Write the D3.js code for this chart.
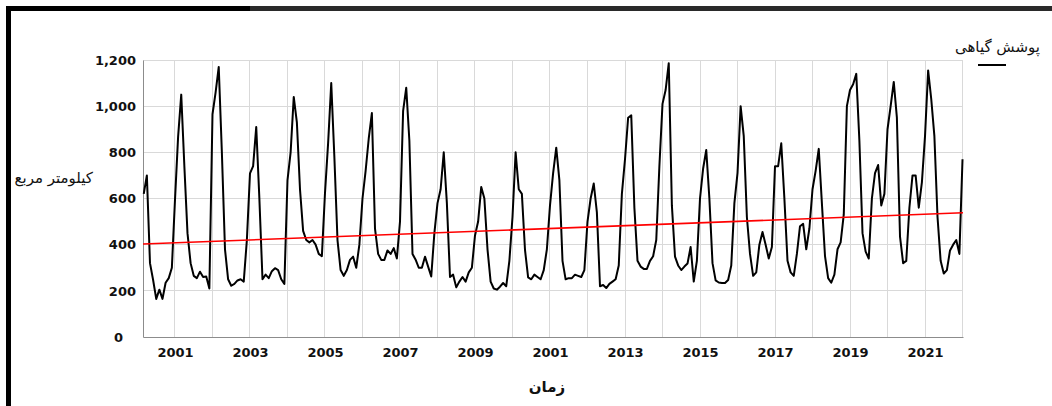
<!DOCTYPE html>
<html>
<head>
<meta charset="utf-8">
<script src="https://cdn.jsdelivr.net/npm/d3@7"></script>
<style>
  html, body { margin: 0; padding: 0; background: #fff; }
  svg { display: block; }
</style>
</head>
<body>
<div id="chart"></div>
<script>
// Monthly vegetation-cover area (km²), starting March 2000
const firstMonth = { year: 2000, month: 3 };
const vegetationArea = [
  // 2000 (Mar–Dec)
  620, 700, 320, 247, 165, 205, 165, 235, 255, 300,
  // 2001
  594, 868, 1050, 740, 450, 320, 265, 255, 283, 260, 262, 210,
  // 2002
  965, 1060, 1170, 800, 380, 250, 222, 230, 245, 250, 240, 420,
  // 2003
  709, 740, 910, 600, 250, 270, 255, 285, 298, 290, 250, 230,
  // 2004
  680, 800, 1040, 930, 640, 460, 420, 410, 420, 400, 360, 350,
  // 2005
  624, 840, 1100, 780, 420, 290, 265, 290, 334, 348, 300, 400,
  // 2006
  600, 720, 860, 970, 470, 360, 334, 334, 375, 360, 385, 340,
  // 2007
  500, 980, 1080, 850, 360, 335, 300, 300, 348, 305, 262, 450,
  // 2008
  580, 640, 800, 580, 260, 270, 215, 240, 260, 240, 280, 300,
  // 2009
  440, 500, 650, 600, 380, 240, 210, 205, 218, 234, 220, 330,
  // 2010
  520, 800, 640, 620, 377, 258, 250, 270, 260, 250, 290, 380,
  // 2011
  570, 710, 820, 680, 330, 250, 255, 255, 270, 265, 260, 290,
  // 2012
  500, 600, 665, 540, 220, 225, 212, 230, 240, 250, 310, 620,
  // 2013
  770, 950, 960, 560, 330, 305, 295, 295, 330, 350, 420, 740,
  // 2014
  1010, 1070, 1186, 570, 348, 310, 290, 305, 318, 390, 240, 330,
  // 2015
  600, 730, 810, 600, 320, 245, 236, 234, 234, 247, 310, 580,
  // 2016
  710, 1000, 870, 520, 360, 265, 280, 400, 455, 400, 340, 390,
  // 2017
  740, 740, 839, 600, 330, 280, 265, 360, 480, 490, 380, 470,
  // 2018
  640, 720, 815, 580, 350, 255, 235, 270, 380, 410, 530, 1000,
  // 2019
  1070, 1095, 1140, 850, 450, 370, 340, 600, 710, 745, 570, 620,
  // 2020
  900, 1000, 1105, 950, 435, 320, 330, 560, 700, 700, 560, 670,
  // 2021
  870, 1155, 1030, 870, 520, 330, 275, 290, 375, 400, 420, 360,
  // 2022 (Jan)
  770
];

// Linear trend values at the start and end of the period
const trendValues = [403, 538];

const yTicks = [0, 200, 400, 600, 800, 1000, 1200];
const gridYears = [2001, 2002, 2003, 2004, 2005, 2006, 2007, 2008, 2009, 2010, 2011,
                   2012, 2013, 2014, 2015, 2016, 2017, 2018, 2019, 2020, 2021, 2022];
const xTickYears = [2001, 2003, 2005, 2007, 2009, 2011, 2013, 2015, 2017, 2019, 2021];
const xTickLabels = ["2001", "2003", "2005", "2007", "2009", "2001", "2013", "2015", "2017", "2019", "2021"];

const yTitle = "کیلومتر مربع";
const xTitle = "زمان";
const legendLabel = "پوشش گیاهی";

const W = 1052, H = 406;
const svg = d3.select("#chart").append("svg").attr("width", W).attr("height", H);

// frame
svg.append("rect").attr("x", 6).attr("y", 6).attr("width", W - 6).attr("height", 5).attr("fill", "#2a2a2a");
svg.append("rect").attr("x", 6).attr("y", 6).attr("width", 244).attr("height", 5).attr("fill", "#000");
svg.append("rect").attr("x", 6).attr("y", 6).attr("width", 5).attr("height", H - 6).attr("fill", "#000");

const x = d3.scaleLinear().domain([2000.147, 2022.013]).range([143, 963]);
const y = d3.scaleLinear().domain([0, 1200]).range([337, 60]);

const series = vegetationArea.map((v, i) => ({
  t: firstMonth.year + (firstMonth.month - 1 + i) / 12,
  v
}));

// gridlines
const grid = svg.append("g");
grid.selectAll("line.h").data(yTicks.filter(d => d > 0)).join("line")
  .attr("x1", x.range()[0]).attr("x2", x.range()[1])
  .attr("y1", d => y(d)).attr("y2", d => y(d))
  .attr("stroke", "#d9d9d9").attr("stroke-width", 1).attr("shape-rendering", "crispEdges");
grid.selectAll("line.v").data(gridYears).join("line")
  .attr("x1", d => x(d)).attr("x2", d => x(d))
  .attr("y1", y(1200)).attr("y2", y(0))
  .attr("stroke", "#d9d9d9").attr("stroke-width", 1).attr("shape-rendering", "crispEdges");

// y axis
const yAxis = svg.append("g").attr("transform", `translate(${x.range()[0]},0)`)
  .call(d3.axisLeft(y).tickValues(yTicks).tickFormat(d3.format(",")).tickSize(0).tickPadding(7));
yAxis.select(".domain").attr("stroke", "#8c8c8c");
yAxis.selectAll("text")
  .attr("font-family", "DejaVu Sans, sans-serif").attr("font-weight", "bold")
  .attr("font-size", 13).attr("fill", "#111")
  .attr("dx", d => d === 0 ? -13 : 0);

// x axis
const xAxis = svg.append("g").attr("transform", `translate(0,${y(0)})`)
  .call(d3.axisBottom(x).tickValues(xTickYears)
    .tickFormat((d, i) => xTickLabels[i]).tickSize(0).tickPadding(11));
xAxis.select(".domain").attr("stroke", "#8c8c8c");
xAxis.selectAll("text")
  .attr("font-family", "DejaVu Sans, sans-serif").attr("font-weight", "bold")
  .attr("font-size", 13).attr("fill", "#111");

// data line
const line = d3.line().x(d => x(d.t)).y(d => y(d.v));
svg.append("path").datum(series)
  .attr("d", line).attr("fill", "none")
  .attr("stroke", "#000").attr("stroke-width", 2).attr("stroke-linejoin", "round");

// trend line
const [t0, t1] = x.domain();
svg.append("line")
  .attr("x1", x(t0)).attr("y1", y(trendValues[0]))
  .attr("x2", x(t1)).attr("y2", y(trendValues[1]))
  .attr("stroke", "#ff0000").attr("stroke-width", 1.6);

// titles (rtl: "start" anchors the right edge)
svg.append("text").attr("x", 93).attr("y", 183).attr("text-anchor", "start")
  .attr("direction", "rtl")
  .attr("font-family", "DejaVu Sans, sans-serif").attr("font-size", 15).attr("fill", "#111")
  .text(yTitle);
svg.append("text").attr("x", 547).attr("y", 392).attr("text-anchor", "middle")
  .attr("direction", "rtl")
  .attr("font-family", "DejaVu Sans, sans-serif").attr("font-weight", "bold")
  .attr("font-size", 15).attr("fill", "#111")
  .text(xTitle);

// legend
svg.append("text").attr("x", 1040).attr("y", 52).attr("text-anchor", "start")
  .attr("direction", "rtl")
  .attr("font-family", "DejaVu Sans, sans-serif").attr("font-size", 15).attr("fill", "#111")
  .text(legendLabel);
svg.append("line").attr("x1", 978).attr("x2", 1006).attr("y1", 65).attr("y2", 65)
  .attr("stroke", "#000").attr("stroke-width", 2);
</script>
</body>
</html>
